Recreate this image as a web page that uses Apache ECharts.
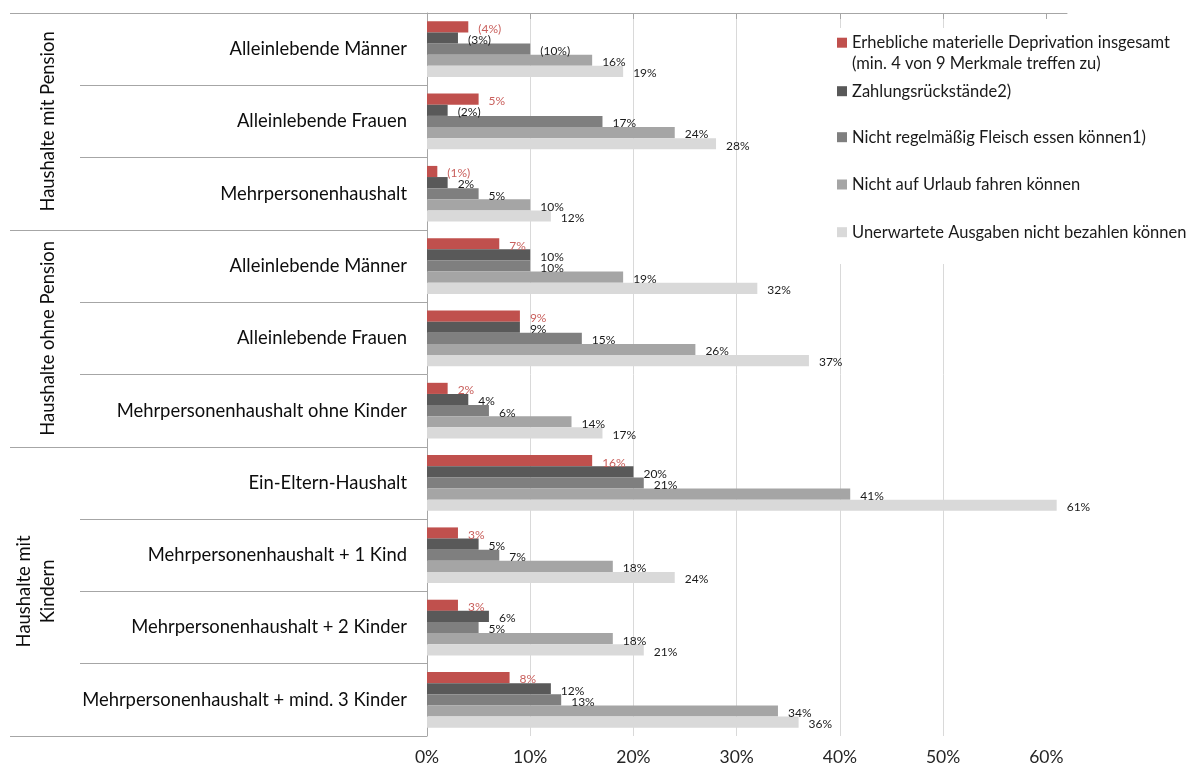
<!DOCTYPE html>
<html>
<head>
<meta charset="utf-8">
<script src="https://cdn.jsdelivr.net/npm/echarts@6/dist/echarts.min.js"></script>
<style>
  html, body { margin: 0; padding: 0; background: #fff; }
  #chart { width: 1189px; height: 769px; }
</style>
</head>
<body>
<div id="chart"></div>
<script>
// Household types, top to bottom
const categories = [
  'Alleinlebende Männer',
  'Alleinlebende Frauen',
  'Mehrpersonenhaushalt',
  'Alleinlebende Männer',
  'Alleinlebende Frauen',
  'Mehrpersonenhaushalt ohne Kinder',
  'Ein-Eltern-Haushalt',
  'Mehrpersonenhaushalt + 1 Kind',
  'Mehrpersonenhaushalt + 2 Kinder',
  'Mehrpersonenhaushalt + mind. 3 Kinder'
];

// Household groups and how many categories each spans
const groupNames = ['Haushalte mit Pension', 'Haushalte ohne Pension', 'Haushalte mit\nKindern'];
const groupSizes = [3, 3, 4];

const seriesNames = [
  'Erhebliche materielle Deprivation insgesamt (min. 4 von 9 Merkmale treffen zu)',
  'Zahlungsrückstände2)',
  'Nicht regelmäßig Fleisch essen können1)',
  'Nicht auf Urlaub fahren können',
  'Unerwartete Ausgaben nicht bezahlen können'
];

// Shares in percent
const deprivation = [4, 5, 1, 7, 9, 2, 16, 3, 3, 8];
const arrears     = [3, 2, 2, 10, 9, 4, 20, 5, 6, 12];
const noMeat      = [10, 17, 5, 10, 15, 6, 21, 7, 5, 13];
const noHoliday   = [16, 24, 10, 19, 26, 14, 41, 18, 18, 34];
const unexpected  = [19, 28, 12, 32, 37, 17, 61, 24, 21, 36];

// Category indices whose value is printed in brackets (small sample)
const bracketDeprivation = [0, 2];
const bracketArrears = [0, 1];
const bracketNoMeat = [0];
const bracketNone = [];

const xTicks = [0, 10, 20, 30, 40, 50, 60];

const colors = ['#C0504D', '#595959', '#7F7F7F', '#A5A5A5', '#D9D9D9'];
const seriesData = [deprivation, arrears, noMeat, noHoliday, unexpected];
const brackets = [bracketDeprivation, bracketArrears, bracketNoMeat, bracketNone, bracketNone];

const FONT = 'Lato, "Open Sans", sans-serif';
const LINE = '#A6A6A6';

// Boundary indices where a new group begins
const groupStarts = [];
groupSizes.reduce((acc, n) => { groupStarts.push(acc); return acc + n; }, 0);

// Centres of the groups on a 0..N value scale
const groupCentres = [];
groupSizes.reduce((acc, n) => { groupCentres.push(acc + n / 2); return acc + n; }, 0);

const chart = echarts.init(document.getElementById('chart'), null, { renderer: 'canvas' });

const series = seriesData.map((data, i) => ({
  name: seriesNames[i],
  type: 'bar',
  data: data,
  barGap: '0%',
  barCategoryGap: '23%',
  itemStyle: { color: colors[i] },
  label: {
    show: true,
    position: 'right',
    distance: 10,
    offset: [0, 2],
    fontFamily: FONT,
    fontSize: 12,
    color: i === 0 ? '#C9605D' : '#1A1A1A',
    formatter: p => brackets[i].indexOf(p.dataIndex) >= 0 ? '(' + p.value + '%)' : p.value + '%'
  }
}));

// The first entry wraps onto two lines; a leading blank line keeps its
// marker level with the first line of text.
const legendTops = [11.2, 80.7, 126.7, 174, 221.7];
const legends = seriesNames.map((name, i) => ({
  data: [name],
  orient: 'vertical',
  left: 837,
  top: legendTops[i],
  padding: 0,
  itemWidth: 10,
  itemHeight: 10,
  icon: 'rect',
  selectedMode: false,
  formatter: i === 0
    ? '\nErhebliche materielle Deprivation insgesamt\n(min. 4 von 9 Merkmale treffen zu)'
    : '{name}',
  textStyle: { fontFamily: FONT, fontSize: 16.5, color: '#1A1A1A', lineHeight: 21 }
}));

chart.setOption({
  animation: false,
  backgroundColor: '#fff',
  grid: { left: 427, top: 13, width: 640, height: 723, containLabel: false },
  legend: legends,
  graphic: [{
    type: 'rect',
    left: 833,
    top: 28,
    shape: { width: 356, height: 236 },
    style: { fill: '#fff' },
    z: 1,
    silent: true
  }],
  xAxis: {
    type: 'value',
    min: 0,
    max: 62,
    interval: 10,
    axisLine: { show: true, lineStyle: { color: LINE, width: 1 } },
    axisTick: { show: true, length: 6, lineStyle: { color: LINE }, customValues: xTicks },
    axisLabel: {
      customValues: xTicks,
      margin: 12,
      fontFamily: FONT,
      fontSize: 17.5,
      color: '#262626',
      formatter: v => v + '%'
    },
    splitLine: { show: true, showMaxLine: false, lineStyle: { color: '#D9D9D9', width: 1 } }
  },
  yAxis: [
    {
      type: 'category',
      data: categories,
      inverse: true,
      position: 'left',
      axisLine: { show: true, lineStyle: { color: LINE, width: 1 } },
      axisTick: { show: true, length: 347, lineStyle: { color: LINE, width: 1.2 } },
      axisLabel: { margin: 20, fontFamily: FONT, fontSize: 18.4, color: '#0D0D0D' },
      splitLine: { show: false }
    },
    {
      type: 'category',
      data: categories,
      inverse: true,
      position: 'left',
      axisLine: { show: false },
      axisTick: {
        show: true,
        length: 417,
        interval: idx => groupStarts.indexOf(idx) >= 0,
        lineStyle: { color: LINE, width: 1.2 }
      },
      axisLabel: { show: false },
      splitLine: { show: false }
    },
    {
      type: 'value',
      min: 0,
      max: categories.length,
      inverse: true,
      position: 'left',
      axisLine: { show: false },
      axisTick: { show: false },
      splitLine: { show: false },
      axisLabel: {
        customValues: groupCentres,
        rotate: 90,
        margin: 367,
        fontFamily: FONT,
        fontSize: 18.4,
        lineHeight: 24,
        color: '#0D0D0D',
        formatter: v => groupNames[groupCentres.indexOf(v)]
      }
    }
  ],
  series: series
});
</script>
</body>
</html>
